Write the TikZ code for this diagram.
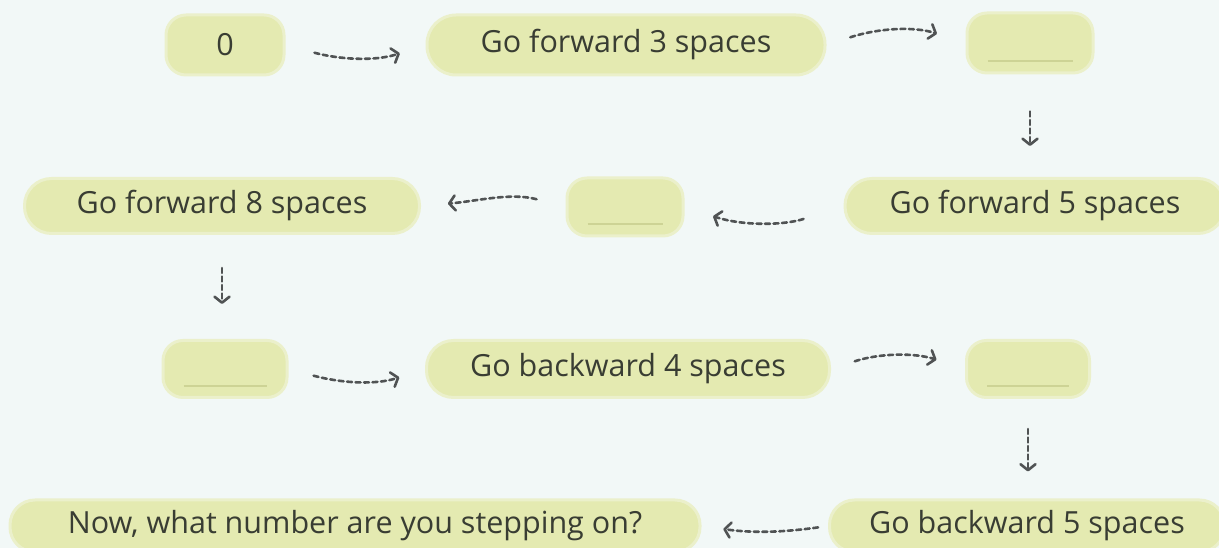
\documentclass[tikz,border=0pt]{standalone}
\usepackage{fontspec}
\setmainfont{Open Sans}
\usetikzlibrary{arrows.meta}
\definecolor{bgc}{HTML}{F2F8F7}
\definecolor{pillc}{HTML}{E4EAB1}
\definecolor{pilledge}{HTML}{EBF0CB}
\definecolor{linec}{HTML}{CDD395}
\definecolor{txtc}{HTML}{393D33}
\definecolor{arrc}{HTML}{505354}
\tikzset{
  pill/.style={fill=pillc, draw=pilledge, line width=3pt, rounded corners=27pt, inner sep=0pt,
    text=txtc, font=\fontsize{30.5}{36}\selectfont, minimum height=55pt},
  blankbox/.style={pill, rounded corners=20pt},
  flowarrow/.style={draw=arrc, line width=2.6pt, dash pattern=on 5pt off 3.5pt, line cap=round,
    -{Straight Barb[length=6pt,width=15pt,line width=2.6pt,round]}},
  blankline/.style={draw=linec, line width=2pt},
}
\begin{document}
\begin{tikzpicture}[x=1pt,y=1pt]
\fill[bgc] (0,0) rectangle (1219,548);
\useasboundingbox (0,0) rectangle (1219,548);
% row 1
\node[blankbox, minimum width=118pt, minimum height=60pt] (n0) at (225,503) {0};
\node[pill, minimum width=398pt, minimum height=60pt, rounded corners=29pt] (f3) at (626,503) {Go forward 3 spaces};
\node[blankbox, minimum width=126pt, minimum height=60pt] (b1) at (1030,505) {};
% row 2
\node[pill, minimum width=395pt] (f8) at (222,342) {Go forward 8 spaces};
\node[blankbox, minimum width=116pt, minimum height=58pt] (b2) at (625,341) {};
\node[pill, minimum width=380pt] (f5) at (1035,342) {Go forward 5 spaces};
% row 3
\node[blankbox, minimum width=124pt, minimum height=57pt] (b3) at (225,179) {};
\node[pill, minimum width=403pt, minimum height=57pt] (b4) at (628,179) {Go backward 4 spaces};
\node[blankbox, minimum width=123pt, minimum height=57pt] (b5) at (1028,179) {};
% row 4
\node[pill, minimum width=690pt, minimum height=52pt, rounded corners=25pt] (q) at (355,22) {Now, what number are you stepping on?};
\node[pill, minimum width=395pt, minimum height=52pt, rounded corners=25pt] (g5) at (1027,22) {Go backward 5 spaces};
% blanks
\foreach \b in {b1,b2,b3,b5}
  \draw[blankline] ([shift={(22pt,13pt)}]\b.south west) -- ([shift={(-22pt,13pt)}]\b.south east);
% arrows
\draw[flowarrow, shorten <=30pt, shorten >=27pt] (n0.east) to[out=-15,in=198] (f3.west);
\draw[flowarrow, shorten <=25pt, shorten >=30pt] (f3.east) to[out=18,in=162] (b1.west);
\draw[flowarrow, shorten <=37pt, shorten >=31pt] (b1.south) -- (b1.south |- f5.north);
\draw[flowarrow, shorten <=42pt, shorten >=30pt] (f5.west) to[out=198,in=-18] (b2.east);
\draw[flowarrow, shorten <=30pt, shorten >=27pt] (b2.west) to[out=165,in=5] (f8.east);
\draw[flowarrow, shorten <=33pt, shorten >=35pt] (f8.south) -- (f8.south |- b3.north);
\draw[flowarrow, shorten <=26pt, shorten >=27pt] (b3.east) to[out=-15,in=198] (b4.west);
\draw[flowarrow, shorten <=25pt, shorten >=30pt] (b4.east) to[out=18,in=162] (b5.west);
\draw[flowarrow, shorten <=30pt, shorten >=27pt] (b5.south) -- (b5.south |- g5.north);
\draw[flowarrow, shorten <=10pt, shorten >=22pt] (g5.west) to[out=188,in=-8] (q.east);
\end{tikzpicture}
\end{document}
